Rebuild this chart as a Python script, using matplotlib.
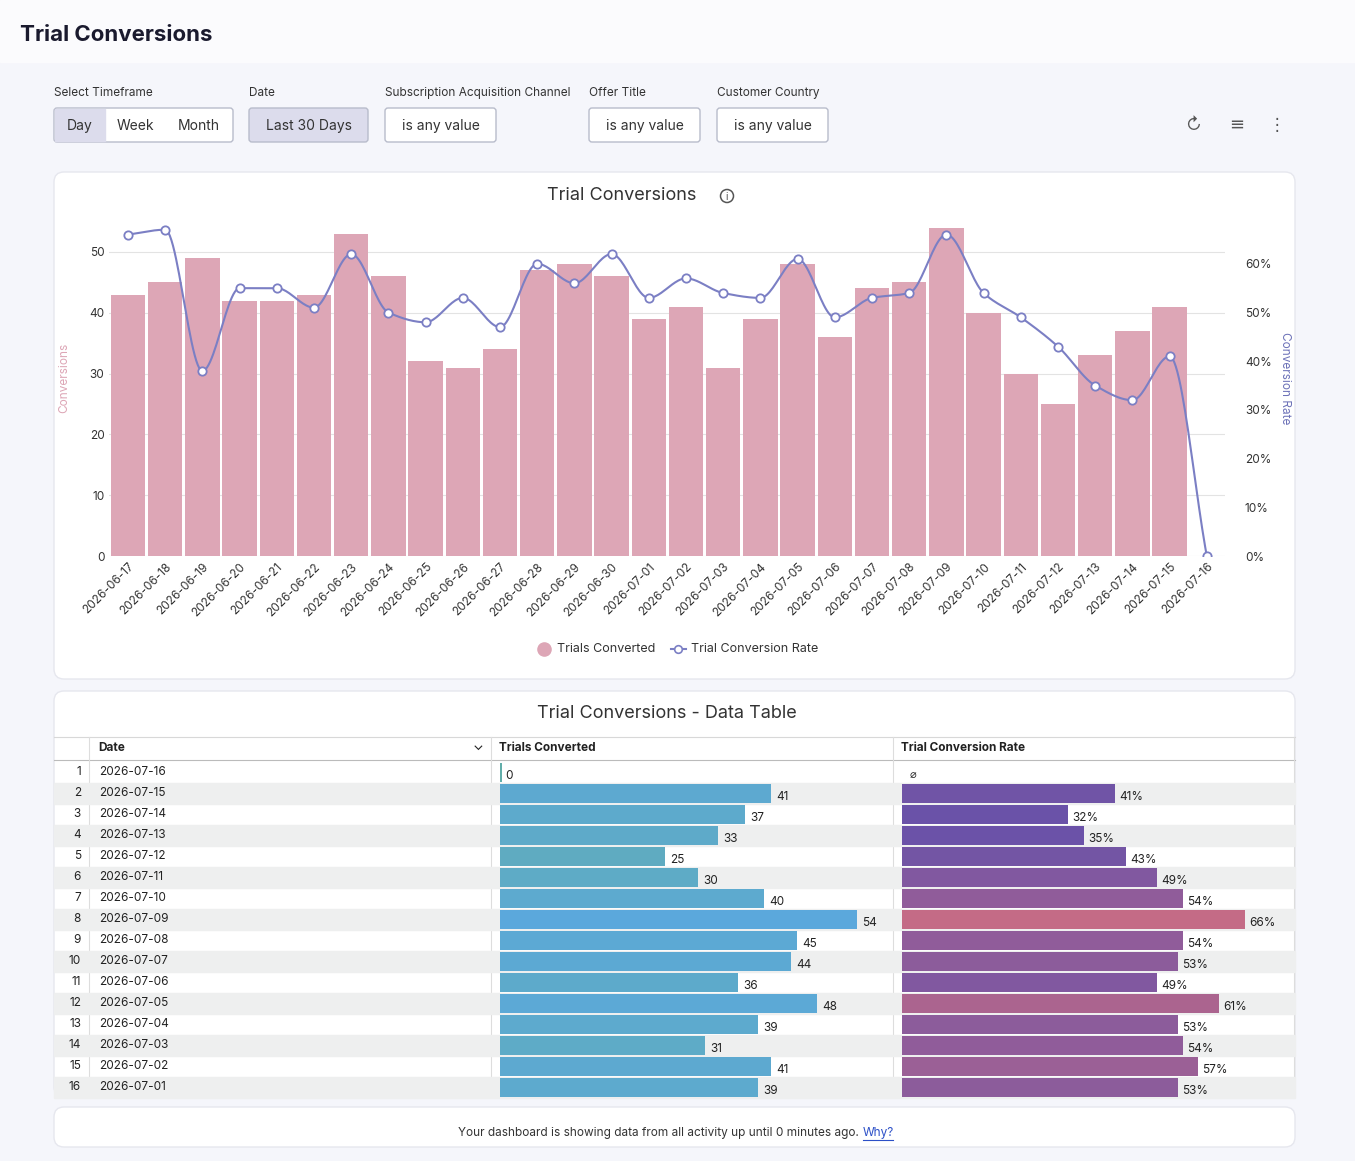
import numpy as np
import matplotlib.pyplot as plt
from matplotlib.patches import FancyBboxPatch, Rectangle, Circle
from matplotlib.colors import to_rgb

plt.rcParams['font.family'] = ['Inter', 'DejaVu Sans']

dates = ["2026-06-17", "2026-06-18", "2026-06-19", "2026-06-20", "2026-06-21", "2026-06-22",
         "2026-06-23", "2026-06-24", "2026-06-25", "2026-06-26", "2026-06-27", "2026-06-28",
         "2026-06-29", "2026-06-30", "2026-07-01", "2026-07-02", "2026-07-03", "2026-07-04",
         "2026-07-05", "2026-07-06", "2026-07-07", "2026-07-08", "2026-07-09", "2026-07-10",
         "2026-07-11", "2026-07-12", "2026-07-13", "2026-07-14", "2026-07-15", "2026-07-16"]
conversions = [43, 45, 49, 42, 42, 43, 53, 46, 32, 31, 34, 47, 48, 46,
               39, 41, 31, 39, 48, 36, 44, 45, 54, 40, 30, 25, 33, 37, 41, 0]
rates = [66, 67, 38, 55, 55, 51, 62, 50, 48, 53, 47, 60, 56, 62,
         53, 57, 54, 53, 61, 49, 53, 54, 66, 54, 49, 43, 35, 32, 41, 0]

# table shows the last 16 days, newest first
table_dates = dates[::-1][:16]
table_conv = conversions[::-1][:16]
table_rates = rates[::-1][:16]

W, H = 1355, 1161
fig = plt.figure(figsize=(13.55, 11.61), dpi=100)
fig.patch.set_facecolor("#f5f6fb")
bg = fig.add_axes([0, 0, 1, 1])
bg.set_xlim(0, W)
bg.set_ylim(H, 0)
bg.axis("off")

bg.add_patch(Rectangle((0, 0), W, 62, color="#fbfbfd", zorder=0))
bg.text(20, 35, "Trial Conversions", fontsize=16, fontweight="bold", color="#1a1a2e", va="center")

# filter bar
labels = [(54, "Select Timeframe"), (249, "Date"), (385, "Subscription Acquisition Channel"),
          (589, "Offer Title"), (717, "Customer Country")]
for x, t in labels:
    bg.text(x, 93, t, fontsize=8.5, color="#333", va="center")

def button(x, w, text, fill="white"):
    bg.add_patch(FancyBboxPatch((x, 108), w, 34, boxstyle="round,pad=0,rounding_size=3",
                                fc=fill, ec="#b8bccb", lw=1))
    bg.text(x + w / 2, 126, text, fontsize=10, color="#333", ha="center", va="center")

bg.add_patch(FancyBboxPatch((54, 108), 179, 34, boxstyle="round,pad=0,rounding_size=3",
                            fc="white", ec="#b8bccb", lw=1))
bg.add_patch(Rectangle((55, 109), 50, 32, color="#dcdcec"))
for x, t in [(80, "Day"), (135, "Week"), (199, "Month")]:
    bg.text(x, 126, t, fontsize=10, color="#333", ha="center", va="center")
button(249, 119, "Last 30 Days", "#dcdcec")
button(385, 111, "is any value")
button(589, 111, "is any value")
button(717, 111, "is any value")
bg.text(1193, 125, "\u21bb", fontsize=12, color="#555", ha="center", va="center")
bg.text(1237, 125, "\u2261", fontsize=13, color="#555", ha="center", va="center")
bg.text(1277, 125, "\u22ee", fontsize=12, color="#555", ha="center", va="center")

# cards
for y0, y1 in [(172, 679), (691, 1097), (1107, 1147)]:
    bg.add_patch(FancyBboxPatch((54, y0), 1241, y1 - y0, boxstyle="round,pad=0,rounding_size=10",
                                fc="white", ec="#e6e7ee", lw=1, zorder=1))

bg.text(622, 195, "Trial Conversions", fontsize=13, color="#333", ha="center", va="center", zorder=2)
bg.add_patch(Circle((727, 196), 6.5, fill=False, ec="#555", lw=1.1, zorder=2))
bg.text(727, 196.5, "i", fontsize=7.5, color="#555", ha="center", va="center", zorder=3)

# legend
bg.scatter([544], [649], s=90, color="#dda6b6", zorder=3)
bg.text(557, 649, "Trials Converted", fontsize=9, color="#333", va="center", zorder=3)
bg.plot([671, 686], [649, 649], color="#7b7fc4", lw=1.5, zorder=3)
bg.scatter([678], [649], s=30, facecolor="white", edgecolor="#7b7fc4", lw=1.2, zorder=4)
bg.text(691, 649, "Trial Conversion Rate", fontsize=9, color="#333", va="center", zorder=3)

# chart
ax = fig.add_axes([109.4 / W, 1 - 556 / H, 1116 / W, 356 / H])
ax.set_facecolor("none")
x = np.arange(len(dates))
ax.bar(x, conversions, width=0.92, color="#dda6b6", zorder=2)
ax.set_xlim(-0.5, len(dates) - 0.5)
ax.set_ylim(0, 356 / 6.08)
ax.set_yticks(range(0, 51, 10))
ax.grid(axis="y", color="#e3e3e3", lw=0.8, zorder=0)
ax.set_xticks(x)
ax.set_xticklabels(dates, rotation=45, ha="right", rotation_mode="anchor", fontsize=8.5, color="#333")
ax.tick_params(length=0, labelsize=8.5, labelcolor="#333")
ax.set_ylabel("Conversions", color="#dda6b6", fontsize=8.5, labelpad=14)
for s in ax.spines.values():
    s.set_visible(False)

ax2 = ax.twinx()
# monotone cubic (Fritsch-Carlson) curve through the points
r = np.array(rates, float)
d = np.diff(r)
m = np.zeros_like(r)
m[0], m[-1] = d[0], d[-1]
for i in range(1, len(r) - 1):
    if d[i - 1] * d[i] > 0:
        m[i] = 2 / (1 / d[i - 1] + 1 / d[i])
xs, ys = [], []
t = np.linspace(0, 1, 25)
h00, h10 = 2 * t**3 - 3 * t**2 + 1, t**3 - 2 * t**2 + t
h01, h11 = -2 * t**3 + 3 * t**2, t**3 - t**2
for i in range(len(r) - 1):
    xs.extend(i + t)
    ys.extend(h00 * r[i] + h10 * m[i] + h01 * r[i + 1] + h11 * m[i + 1])
ax2.plot(xs, ys, color="#7b7fc4", lw=1.5, zorder=3)
ax2.scatter(x, rates, s=36, facecolor="white", edgecolor="#7b7fc4", lw=1.3, zorder=4)
ax2.set_ylim(0, 356 / 4.87)
ax2.set_yticks(range(0, 61, 10))
ax2.set_yticklabels([f"{v}%" for v in range(0, 61, 10)])
ax2.tick_params(length=0, labelsize=8.5, labelcolor="#333", pad=14)
ax2.set_ylabel("Conversion Rate", color="#6d72b8", fontsize=8.5, rotation=270, labelpad=14)
for s in ax2.spines.values():
    s.set_visible(False)

# data table
bg.text(667, 714, "Trial Conversions - Data Table", fontsize=13, color="#333", ha="center", va="center", zorder=2)
bg.plot([54, 1295], [737, 737], color="#d8d8d8", lw=0.8, zorder=2)
bg.plot([54, 1295], [760, 760], color="#bbb", lw=0.8, zorder=2)
for xv in [89, 491, 893, 1294]:
    bg.plot([xv, xv], [737, 1097], color="#ddd", lw=0.8, zorder=2)
bg.text(98, 748, "Date", fontsize=8.5, fontweight="bold", color="#222", va="center", zorder=3)
bg.text(478, 746, "\u2304", fontsize=10, color="#222", ha="center", va="center", zorder=3)
bg.text(499, 748, "Trials Converted", fontsize=8.5, fontweight="bold", color="#222", va="center", zorder=3)
bg.text(901, 748, "Trial Conversion Rate", fontsize=8.5, fontweight="bold", color="#222", va="center", zorder=3)
row_h = 21
for i, dt in enumerate(table_dates):
    yc = 772 + i * row_h
    if i % 2 == 1:
        bg.add_patch(Rectangle((54, yc - row_h / 2), 1241, row_h, color="#eeefef", zorder=2))
    bg.text(81, yc, str(i + 1), fontsize=8.5, color="#222", ha="right", va="center", zorder=3)
    bg.text(99, yc, dt, fontsize=8.5, color="#222", va="center", zorder=3)

def mix(c1, c2, f):
    a, b = np.array(to_rgb(c1)), np.array(to_rgb(c2))
    return tuple(a + (b - a) * f)

tax = fig.add_axes([500 / W, 1 - 1098 / H, 393 / W, 336 / H])
tax.set_facecolor("none")
tax.set_xlim(0, 393 / 6.61)
tax.set_ylim(16, 0)
tax.axis("off")
for i, v in enumerate(table_conv):
    c = mix("#62aeaa", "#5ba8dc", v / 54)
    tax.barh(i + 0.5, v if v > 0 else 0.3, height=0.86, color=c)
    tax.text(v + 0.8, i + 0.65, str(v), fontsize=8.5, color="#222", va="center")

rax = fig.add_axes([902 / W, 1 - 1098 / H, 392 / W, 336 / H])
rax.set_facecolor("none")
rax.set_xlim(0, 392 / 5.2)
rax.set_ylim(16, 0)
rax.axis("off")
for i, v in enumerate(table_rates):
    if v == 0:
        rax.text(1.5, i + 0.6, "\u2300", fontsize=8, color="#222", va="center")
        continue
    f = (v - 32) / 34
    c = mix("#6a52a8", "#c46b86", max(0, f) ** 2)
    rax.barh(i + 0.5, v, height=0.86, color=c)
    rax.text(v + 0.8, i + 0.65, f"{v}%", fontsize=8.5, color="#222", va="center")

bg.text(859, 1133, "Your dashboard is showing data from all activity up until 0 minutes ago.",
        fontsize=8.5, color="#333", ha="right", va="center", zorder=3)
bg.text(863, 1133, "Why?", fontsize=8.5, color="#2b4fc7", va="center", zorder=3)
bg.plot([863, 893], [1140, 1140], color="#2b4fc7", lw=0.8, zorder=3)

fig.savefig("out.png", dpi=100, facecolor=fig.get_facecolor())
